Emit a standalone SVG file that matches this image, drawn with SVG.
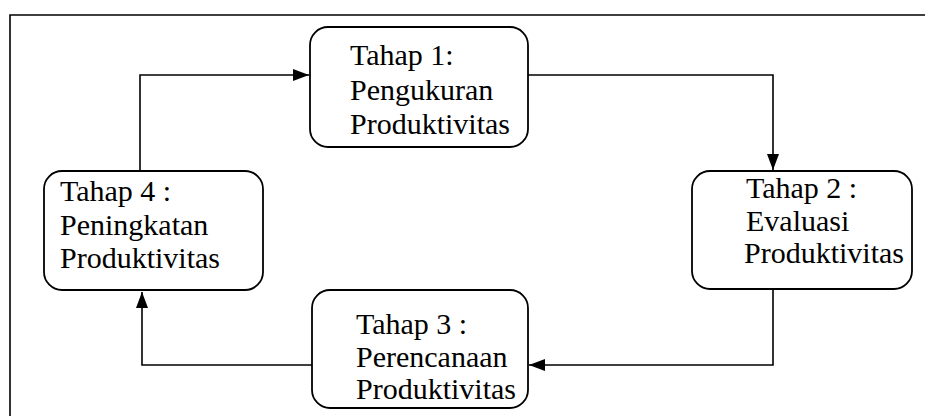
<svg xmlns="http://www.w3.org/2000/svg" width="925" height="416" viewBox="0 0 925 416">
  <style>
    .box { fill: #ffffff; stroke: #000000; stroke-width: 1.8; }
    .lbl { font-family: "Liberation Serif", "Times New Roman", serif; font-size: 30px; fill: #000000; }
    .conn { fill: none; stroke: #000000; stroke-width: 1.6; }
    .frame { fill: none; stroke: #000000; stroke-width: 1.6; }
  </style>
  <defs>
    <marker id="arrow" markerUnits="userSpaceOnUse" markerWidth="16" markerHeight="12" refX="16" refY="6" orient="auto">
      <path d="M0,0 L16,6 L0,12 Z" fill="#000000"/>
    </marker>
  </defs>
  <rect width="925" height="416" fill="#ffffff"/>
  <path class="frame" d="M925,15 L10,15 L10,416"/>

  <g id="connectors">
    <path class="conn" d="M140,171 L140,75 L309,75" marker-end="url(#arrow)"/>
    <path class="conn" d="M528,75 L773,75 L773,170" marker-end="url(#arrow)"/>
    <path class="conn" d="M773,288 L773,365 L529,365" marker-end="url(#arrow)"/>
    <path class="conn" d="M312,365 L142,365 L142,292" marker-end="url(#arrow)"/>
  </g>

  <g id="tahap1">
    <rect class="box" x="310" y="27" width="218" height="120" rx="18"/>
    <text class="lbl" x="350" y="65">Tahap 1:</text>
    <text class="lbl" x="350" y="100">Pengukuran</text>
    <text class="lbl" x="350" y="134">Produktivitas</text>
  </g>

  <g id="tahap2">
    <rect class="box" x="692" y="171" width="220" height="118" rx="18"/>
    <text class="lbl" x="746" y="198">Tahap 2 :</text>
    <text class="lbl" x="746" y="231">Evaluasi</text>
    <text class="lbl" x="744" y="263">Produktivitas</text>
  </g>

  <g id="tahap3">
    <rect class="box" x="312" y="290" width="216" height="118" rx="18"/>
    <text class="lbl" x="356" y="334">Tahap 3 :</text>
    <text class="lbl" x="356" y="367">Perencanaan</text>
    <text class="lbl" x="356" y="399">Produktivitas</text>
  </g>

  <g id="tahap4">
    <rect class="box" x="44" y="171" width="219" height="119" rx="18"/>
    <text class="lbl" x="60" y="201">Tahap 4 :</text>
    <text class="lbl" x="60" y="235">Peningkatan</text>
    <text class="lbl" x="60" y="268">Produktivitas</text>
  </g>
</svg>
